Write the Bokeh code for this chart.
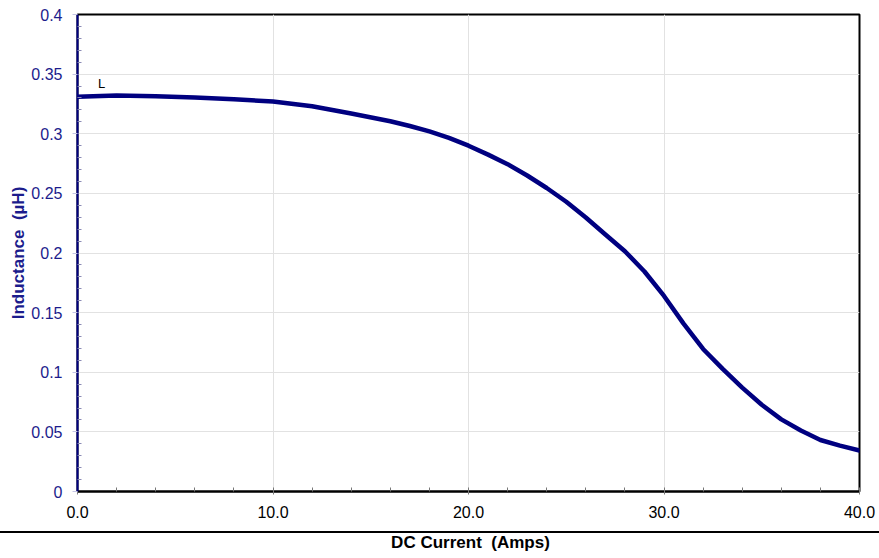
from bokeh.plotting import figure
from bokeh.models import Range1d, FixedTicker, Label, Div
from bokeh.layouts import column
from bokeh.embed import file_html
from bokeh.resources import INLINE

# data
current_amps = [0, 2, 4, 6, 8, 10, 12, 14, 16, 17, 18, 19, 20, 21, 22, 23, 24,
                25, 26, 27, 28, 29, 30, 31, 32, 33, 34, 35, 36, 37, 38, 39, 40]
inductance_uH = [0.331, 0.332, 0.3315, 0.3305, 0.329, 0.327, 0.323, 0.317,
                 0.3105, 0.3065, 0.302, 0.2965, 0.290, 0.2825, 0.2745, 0.265,
                 0.2545, 0.243, 0.2298, 0.2155, 0.2015, 0.1845, 0.164, 0.1408,
                 0.1195, 0.1028, 0.0871, 0.0727, 0.0605, 0.0511, 0.0432,
                 0.0385, 0.0344]
series_name = "L"

x_ticks = [0, 10, 20, 30, 40]
x_tick_labels = ["0.0", "10.0", "20.0", "30.0", "40.0"]
x_minor = [2, 4, 6, 8, 12, 14, 16, 18, 22, 24, 26, 28, 32, 34, 36, 38]
y_ticks = [0, 0.05, 0.1, 0.15, 0.2, 0.25, 0.3, 0.35, 0.4]
y_tick_labels = ["0", "0.05", "0.1", "0.15", "0.2", "0.25", "0.3", "0.35", "0.4"]
y_minor = [round(i * 0.01, 2) for i in range(41) if i % 5 != 0]
x_title = "DC Current\u00a0 (Amps)"
y_title = "Inductance\u00a0 (µH)"

NAVY = "#000080"
LABEL_NAVY = "#1c1c8c"
FONT = "Liberation Sans"
W = 879

p = figure(width=W, height=531, output_backend="svg", toolbar_location=None,
           x_range=Range1d(0, 40), y_range=Range1d(0, 0.4),
           min_border_left=77, min_border_right=20, min_border_top=14,
           min_border_bottom=40)
p.background_fill_color = "white"
p.border_fill_color = "white"
p.outline_line_color = "black"
p.outline_line_width = 2

p.line(current_amps, inductance_uH, line_color=NAVY, line_width=4.5,
       line_join="round", line_cap="round")

p.add_layout(Label(x=1.05, y=0.3425, text=series_name, text_font=FONT,
                   text_font_size="13px", text_color="black",
                   text_align="left", text_baseline="middle"))

# x axis
xa = p.xaxis[0]
xa.ticker = FixedTicker(ticks=x_ticks, minor_ticks=x_minor)
xa.major_label_overrides = {t: l for t, l in zip(x_ticks, x_tick_labels)}
xa.axis_line_color = "black"
xa.axis_line_width = 2
xa.major_tick_in = 4
xa.major_tick_out = 3
xa.minor_tick_in = 4
xa.minor_tick_out = 0
xa.major_tick_line_color = "#777777"
xa.minor_tick_line_color = "#777777"
xa.major_label_text_font = FONT
xa.major_label_text_font_size = "16px"
xa.major_label_text_color = "black"
xa.major_label_standoff = 11

# y axis
ya = p.yaxis[0]
ya.ticker = FixedTicker(ticks=y_ticks, minor_ticks=y_minor)
ya.major_label_overrides = {t: l for t, l in zip(y_ticks, y_tick_labels)}
ya.axis_line_color = NAVY
ya.axis_line_width = 2
ya.major_tick_in = 0
ya.major_tick_out = 5
ya.minor_tick_in = 4
ya.minor_tick_out = 0
ya.major_tick_line_color = "#c4c4e4"
ya.minor_tick_line_color = "#8a8ab4"
ya.major_label_text_font = FONT
ya.major_label_text_font_size = "16px"
ya.major_label_text_color = LABEL_NAVY
ya.major_label_standoff = 10
ya.axis_label = y_title
ya.axis_label_text_font = FONT
ya.axis_label_text_font_size = "17px"
ya.axis_label_text_font_style = "bold"
ya.axis_label_text_color = LABEL_NAVY
ya.axis_label_standoff = 0

p.xgrid.ticker = FixedTicker(ticks=x_ticks)
p.ygrid.ticker = FixedTicker(ticks=y_ticks)
p.xgrid.grid_line_color = "#e2e2e2"
p.ygrid.grid_line_color = "#e2e2e2"

# full-width horizontal rule
rule = Div(text="", width=W, height=2, margin=(0, 0, 0, 0),
           styles={"background-color": "black"})

# strip below the rule holding the x-axis title
p2 = figure(width=W, height=25, output_backend="svg", toolbar_location=None,
            x_range=Range1d(0, 40), y_range=Range1d(0, 25),
            x_axis_location=None, y_axis_location=None,
            min_border_left=77, min_border_right=20,
            min_border_top=0, min_border_bottom=0)
p2.grid.visible = False
p2.outline_line_color = None
p2.background_fill_color = "white"
p2.border_fill_color = "white"
p2.add_layout(Label(x=20.1, y=16.5, text=x_title, text_font=FONT,
                    text_font_size="17px", text_font_style="bold",
                    text_color="black", text_align="center",
                    text_baseline="middle"))

layout = column(p, rule, p2, spacing=0)
open("out.html", "w").write(file_html(layout, INLINE))
